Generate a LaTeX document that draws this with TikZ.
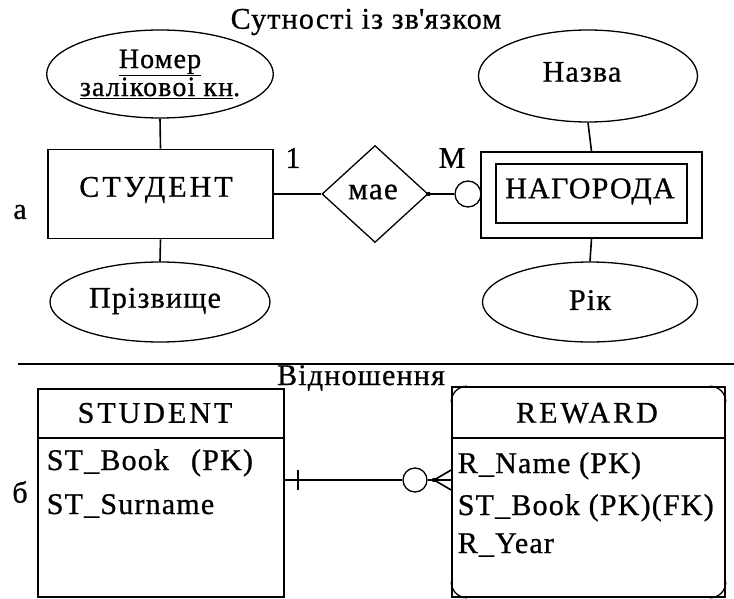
\documentclass[tikz,border=0pt]{standalone}
\usepackage{fontspec}
\setmainfont[LetterSpace=4,FakeBold=0.8]{Liberation Serif}
\newfontfamily\spacedfont[LetterSpace=10,FakeBold=0.8]{Liberation Serif}
\usetikzlibrary{shapes.geometric}
\begin{document}
\begin{tikzpicture}[x=1pt,y=-1pt,
  font=\fontsize{30}{34}\selectfont,
  line width=1.6pt,
  attr/.style={draw, ellipse, line width=1.3pt, inner sep=0pt},
  box/.style={draw, rectangle, inner sep=0pt},
  lbl/.style={inner sep=0pt},
  hdr/.style={inner sep=0pt, font=\fontsize{30}{34}\spacedfont},
  row/.style={inner sep=0pt, anchor=base west},
  ]
\useasboundingbox (0,0) rectangle (734,599);

% ---------- (a) entities and relationship ----------
\node[lbl] (title) at (366,22) {Сутності із зв\textquotesingle язком};

\node[attr, minimum width=214pt, minimum height=88pt,
      font=\fontsize{28}{28}\selectfont, align=center] (key) at (160,74)
      {\underline{Номер}\\\underline{заліковоі кн}.};
\node[box, minimum width=225pt, minimum height=89pt] (stud) at (160.5,194) {};
\node[hdr] (studT) at (156,190) {СТУДЕНТ};
\node[attr, minimum width=220pt, minimum height=80pt] (surn) at (160,302) {};
\node[lbl] (surnT) at (155,301) {Прізвище};
\node[lbl] (la) at (20,212) {а};

\node[draw, diamond, inner sep=0pt, minimum width=106pt, minimum height=97pt,
      line width=1.3pt] (has) at (375,194) {};
\node[lbl, font=\fontsize{31}{34}\selectfont] (hasT) at (373,192) {мае};
\node[lbl] (one) at (293,158) {1};
\node[lbl] (many) at (452,158) {М};

\node[box, minimum width=221pt, minimum height=86pt] (rew) at (591.5,195) {};
\node[box, minimum width=191pt, minimum height=59pt] (rewIn) at (591.5,193.5) {};
\node[lbl] (rewT) at (590,191.5) {НАГОРОДА};
\node[circle, draw, minimum size=26pt, inner sep=0pt, line width=1.3pt] (opt) at (468,194) {};

\node[attr, minimum width=219pt, minimum height=92pt] (name) at (588,76) {};
\node[lbl] (nameT) at (582,72) {Назва};
\node[attr, minimum width=215pt, minimum height=80pt] (year) at (590,302) {};
\node[lbl] (yearT) at (590,300) {Рік};

\draw (key.south) -- (stud.north);
\draw (stud.south) -- (surn.north);
\draw (stud.east) -- (has.west);
\draw (has.east) -- (opt.west);
\fill (has.east) circle (2.2pt);
\draw (name.south) -- (rew.north);
\draw (rew.south) -- (year.north);

% ---------- divider ----------
\coordinate (divL) at (18,364);
\coordinate (divR) at (734,364);
\draw (divL) -- (divR);
\node[lbl] (relT) at (361,378) {Відношення};
\node[lbl] (lb) at (20,492) {б};

% ---------- (b) relational tables ----------
\node[box, minimum width=246pt, minimum height=208pt] (stab) at (161,493) {};
\coordinate (hdrY) at (0,438);
\draw (stab.west |- hdrY) -- (stab.east |- hdrY);
\node[hdr] (stabT) at (155,413) {STUDENT};
\node[row] (s1) at (46,470) {ST\_Book\hspace{22pt}(PK)};
\node[row] (s2) at (46,514) {ST\_Surname};

\node[box, minimum width=273pt, minimum height=210pt] (rtab) at (588.5,492) {};
\draw (rtab.west |- hdrY) -- (rtab.east |- hdrY);
\node[hdr] (rtabT) at (587,413) {REWARD};
\node[row] (r1) at (457,473) {R\_Name (PK)};
\node[row] (r2) at (457,515) {ST\_Book (PK)(FK)};
\node[row] (r3) at (457,553) {R\_Y\hspace{-2pt}ear};

% rounded-corner marks of the dependent table
\begin{scope}[line width=1.3pt]
\draw ([yshift=-16pt]rtab.north west) .. controls ([yshift=-7pt]rtab.north west) and ([xshift=7pt]rtab.north west) .. ([xshift=16pt]rtab.north west);
\draw ([yshift=-16pt]rtab.north east) .. controls ([yshift=-7pt]rtab.north east) and ([xshift=-7pt]rtab.north east) .. ([xshift=-16pt]rtab.north east);
\draw ([yshift=16pt]rtab.south west) .. controls ([yshift=7pt]rtab.south west) and ([xshift=7pt]rtab.south west) .. ([xshift=16pt]rtab.south west);
\draw ([yshift=16pt]rtab.south east) .. controls ([yshift=7pt]rtab.south east) and ([xshift=-7pt]rtab.south east) .. ([xshift=-16pt]rtab.south east);
\end{scope}

% one-to-many link: bar on the parent side, circle and crow's foot on the child side
\coordinate (linkY) at (0,480);
\coordinate (sE) at (stab.east |- linkY);
\coordinate (rW) at (rtab.west |- linkY);
\node[circle, draw, minimum size=24pt, inner sep=0pt, line width=1.3pt] (zero) at (415,480) {};
\coordinate (foot) at (434,480);
\coordinate (tickA) at (298,470);
\coordinate (tickB) at (298,490);
\coordinate (rW1) at (rtab.west |- 0,470);
\coordinate (rW3) at (rtab.west |- 0,490);
\draw (sE) -- (zero.west);
\draw (tickA) -- (tickB);
\draw (zero.east) -- (foot);
\draw (foot) -- (rW1);
\draw (foot) -- (rW);
\draw (foot) -- (rW3);
\fill (foot) circle (2.2pt);
\end{tikzpicture}
\end{document}
